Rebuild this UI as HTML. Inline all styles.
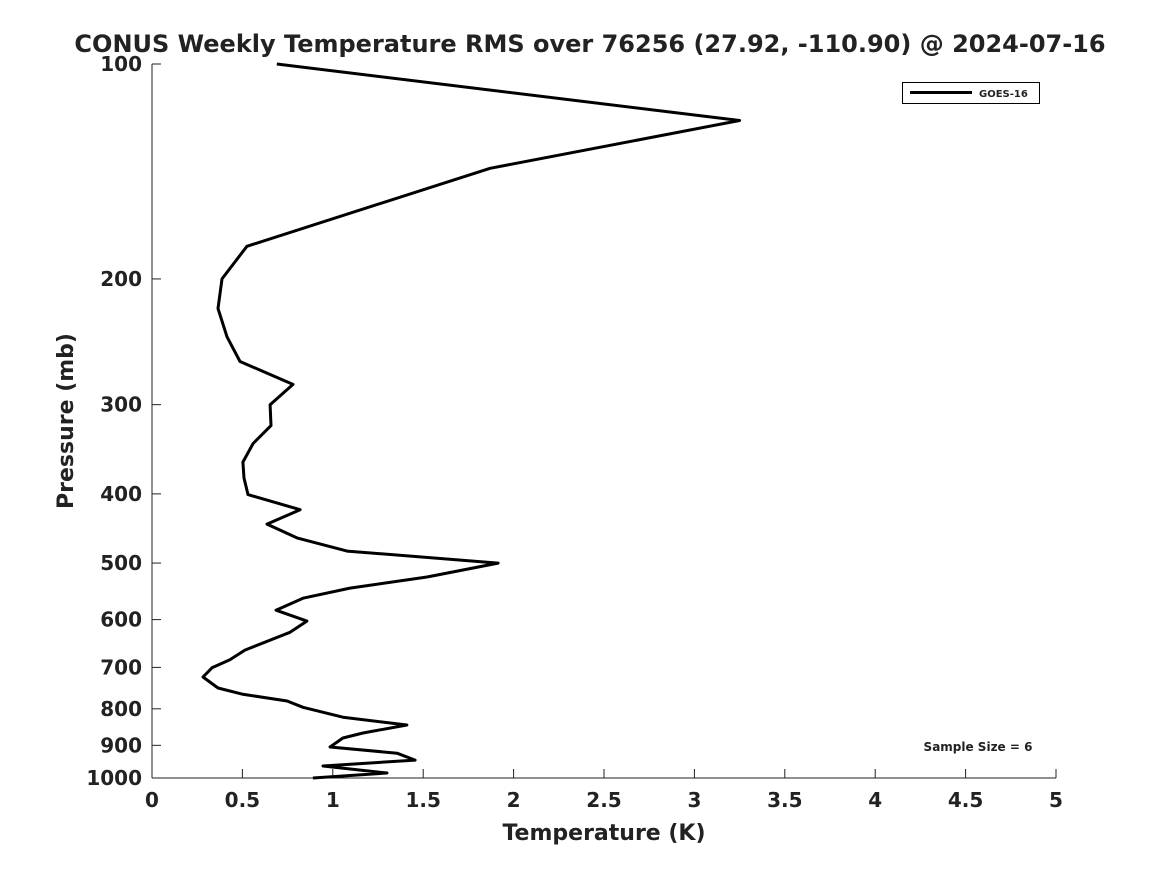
<!DOCTYPE html>
<html><head><meta charset="utf-8"><style>
body{margin:0;background:#fff;}
svg text{font-family:"DejaVu Sans","Liberation Sans",sans-serif;font-weight:bold;fill:#222;}
</style></head><body>
<svg id="chart" width="1167" height="875" xmlns="http://www.w3.org/2000/svg">
<text x="590" y="52" font-size="24" text-anchor="middle" fill="#000">CONUS Weekly Temperature RMS over 76256 (27.92, -110.90) @ 2024-07-16</text>
<g id="axes"></g>
<path id="line" fill="none" stroke="#000" stroke-width="3" stroke-linejoin="round"/>
<g>
<rect x="902.5" y="82.5" width="137" height="21" fill="#fff" stroke="#000" stroke-width="1"/>
<line x1="910" y1="92.5" x2="972" y2="92.5" stroke="#000" stroke-width="3"/>
<text x="979" y="97" font-size="10" fill="#000">GOES-16</text>
</g>
<text x="978" y="751" font-size="12" text-anchor="middle" fill="#000">Sample Size = 6</text>
<text x="604" y="840" font-size="22" text-anchor="middle">Temperature (K)</text>
<text transform="translate(73,421) rotate(-90)" font-size="22" text-anchor="middle">Pressure (mb)</text>
</svg>
<script>
const temps=[0.69,3.25,1.87,0.525,0.387,0.365,0.415,0.487,0.78,0.653,0.658,0.559,0.503,0.509,0.531,0.819,0.636,0.802,1.079,1.914,1.521,1.095,0.835,0.686,0.857,0.763,0.514,0.431,0.332,0.282,0.365,0.498,0.747,0.835,1.056,1.41,1.167,1.056,0.985,1.355,1.455,0.946,1.30,0.89];
const pressures=[100,120,140,180,200,220,241,261,281,300,321,340,361,380,401,421,441,461,481,500,523,542,560,582,603,625,662,683,701,722,748,763,780,796,822,843,865,879,905,923,944,962,984,1000];
const xTicks=[0,0.5,1,1.5,2,2.5,3,3.5,4,4.5,5];
const xTickLabels=["0","0.5","1","1.5","2","2.5","3","3.5","4","4.5","5"];
const yTicks=[100,200,300,400,500,600,700,800,900,1000];
const yTickLabels=["100","200","300","400","500","600","700","800","900","1000"];
const X0=152,X1=1056,Y0=64,Y1=778;
const xs=v=>X0+(v-0)/5*(X1-X0);
const ys=p=>Y0+(Math.log10(p)-2)*(Y1-Y0);
const NS="http://www.w3.org/2000/svg";
const ax=document.getElementById('axes');
function mk(tag,attrs){const e=document.createElementNS(NS,tag);for(const k in attrs)e.setAttribute(k,attrs[k]);ax.appendChild(e);return e;}
const yl=mk('line',{x1:X0,y1:Y0,x2:X0,y2:Y1,stroke:'#222','stroke-width':1});


const xl=mk('line',{x1:X0,y1:Y1,x2:X1,y2:Y1,stroke:'#222','stroke-width':1});


xTicks.forEach((v,i)=>{
  const x=xs(v);
  const t=mk('line',{x1:x,y1:Y1,x2:x,y2:Y1-9,stroke:'#222','stroke-width':1});
  
  
  const l=mk('text',{x:x,y:Y1+29,'font-size':20,'text-anchor':'middle'});
  l.textContent=xTickLabels[i];
  
  
});
yTicks.forEach((p,i)=>{
  const y=ys(p);
  const t=mk('line',{x1:X0,y1:y,x2:X0+9,y2:y,stroke:'#222','stroke-width':1});
  
  
  const l=mk('text',{x:X0-10,y:y+7,'font-size':20,'text-anchor':'end'});
  l.textContent=yTickLabels[i];
  
  
});
document.getElementById('line').setAttribute('d',temps.map((t,i)=>(i?'L':'M')+xs(t).toFixed(1)+','+ys(pressures[i]).toFixed(1)).join(''));
</script>
</body></html>
